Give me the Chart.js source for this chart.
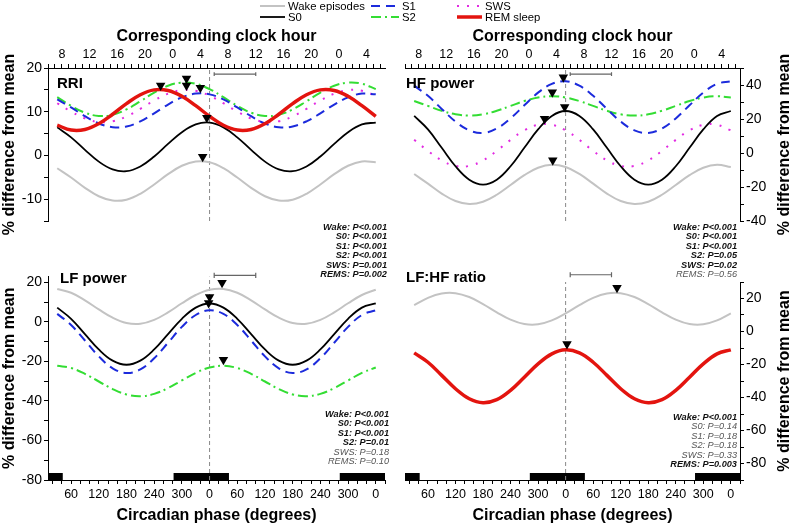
<!DOCTYPE html>
<html>
<head>
<meta charset="utf-8">
<script src="https://cdn.jsdelivr.net/npm/chart.js@4.4.0/dist/chart.umd.min.js"></script>
<style>
body { margin: 0; background: #fff; }
#wrap { position: relative; width: 795px; height: 525px; overflow: hidden; font-family: 'Liberation Sans', Arial, sans-serif; color: #000; }
canvas { position: absolute; }
.lab { position: absolute; font-weight: bold; font-size: 15px; line-height: 16px; white-space: nowrap; }
.stat { position: absolute; text-align: right; font-style: italic; font-size: 9.2px; line-height: 9.4px; color: #555; white-space: nowrap; }
.stat b { color: #111; }
.leg { position: absolute; font-size: 11.3px; line-height: 12px; white-space: nowrap; }
.leg svg { position: absolute; top: 0; }
</style>
</head>
<body>
<div id="wrap">
  <canvas id="tl" width="395" height="276" style="left:0;top:0"></canvas>
  <canvas id="tr" width="400" height="276" style="left:395px;top:0"></canvas>
  <canvas id="bl" width="395" height="259" style="left:0;top:266px"></canvas>
  <canvas id="br" width="400" height="259" style="left:395px;top:266px"></canvas>
</div>
<script>
// circadian phase (degrees, continuous over two cycles)
const phase = [30, 60, 90, 120, 150, 180, 210, 240, 270, 300, 330, 360,
               390, 420, 450, 480, 510, 540, 570, 600, 630, 660, 690, 720]

// RRI
const rriWake = [-2.93, -5.06, -7.41, -9.34, -10.33, -10.13, -8.78, -6.64, -4.29, -2.36, -1.37, -1.57,
                 -2.93, -5.06, -7.41, -9.34, -10.33, -10.13, -8.78, -6.64, -4.29, -2.36, -1.37, -1.57]
const rriS0 = [6.42, 4.14, 1.27, -1.42, -3.21, -3.61, -2.52, -0.24, 2.63, 5.32, 7.11, 7.51,
               6.42, 4.14, 1.27, -1.42, -3.21, -3.61, -2.52, -0.24, 2.63, 5.32, 7.11, 7.51]
const rriS1 = [12.81, 10.98, 8.97, 7.31, 6.46, 6.63, 7.79, 9.62, 11.63, 13.29, 14.14, 13.97,
               12.81, 10.98, 8.97, 7.31, 6.46, 6.63, 7.79, 9.62, 11.63, 13.29, 14.14, 13.97]
const rriS2 = [13.32, 11.34, 9.77, 9.03, 9.30, 10.53, 12.38, 14.36, 15.93, 16.67, 16.40, 15.17,
               13.32, 11.34, 9.77, 9.03, 9.30, 10.53, 12.38, 14.36, 15.93, 16.67, 16.40, 15.17]
const rriSws = [11.94, 10.03, 8.47, 7.66, 7.82, 8.92, 10.66, 12.57, 14.13, 14.94, 14.78, 13.68,
                11.94, 10.03, 8.47, 7.66, 7.82, 8.92, 10.66, 12.57, 14.13, 14.94, 14.78, 13.68]
const rriRem = [6.91, 5.80, 5.93, 7.26, 9.42, 11.85, 13.89, 15.00, 14.87, 13.54, 11.38, 8.95,
                6.91, 5.80, 5.93, 7.26, 9.42, 11.85, 13.89, 15.00, 14.87, 13.54, 11.38, 8.95]
const rriPeakX = [254, 310, 310, 340, 354, 345]
const rriPeakY = [16.0, 17.6, 16.0, 15.5, 8.6, -0.3]

// HF power
const hfWake = [-12.33, -18.05, -23.87, -28.24, -29.99, -28.65, -24.57, -18.85, -13.03, -8.66, -6.91, -8.25,
                -12.33, -18.05, -23.87, -28.24, -29.99, -28.65, -24.57, -18.85, -13.03, -8.66, -6.91, -8.25]
const hfS0 = [21.80, 13.88, 3.05, -7.78, -15.70, -18.60, -15.70, -7.78, 3.05, 13.88, 21.80, 24.70,
              21.80, 13.88, 3.05, -7.78, -15.70, -18.60, -15.70, -7.78, 3.05, 13.88, 21.80, 24.70]
const hfS1 = [39.60, 33.66, 25.94, 18.50, 13.34, 11.83, 14.40, 20.34, 28.06, 35.50, 40.66, 42.17,
              39.60, 33.66, 25.94, 18.50, 13.34, 11.83, 14.40, 20.34, 28.06, 35.50, 40.66, 42.17]
const hfS2 = [30.55, 27.70, 24.85, 22.76, 22.00, 22.76, 24.85, 27.70, 30.55, 32.64, 33.40, 32.64,
              30.55, 27.70, 24.85, 22.76, 22.00, 22.76, 24.85, 27.70, 30.55, 32.64, 33.40, 32.64]
const hfSws = [7.74, 1.26, -4.34, -7.58, -7.58, -4.34, 1.26, 7.74, 13.34, 16.58, 16.58, 13.34,
               7.74, 1.26, -4.34, -7.58, -7.58, -4.34, 1.26, 7.74, 13.34, 16.58, 16.58, 13.34]
const hfPeakX = [332, 358, 355, 331, 314]
const hfPeakY = [-4.2, 27.0, 44.5, 35.7, 20.2]

// LF power
const lfWake = [16.67, 14.71, 10.91, 6.29, 2.10, -0.56, -0.97, 1.00, 4.79, 9.41, 13.60, 16.26,
                16.67, 14.71, 10.91, 6.29, 2.10, -0.56, -0.97, 1.00, 4.79, 9.41, 13.60, 16.26]
const lfS0 = [7.22, 1.55, -6.2, -13.95, -19.62, -21.7, -19.62, -13.95, -6.2, 1.55, 7.22, 9.3,
              7.22, 1.55, -6.2, -13.95, -19.62, -21.7, -19.62, -13.95, -6.2, 1.55, 7.22, 9.3]
const lfS1 = [4.04, -1.57, -9.44, -17.46, -23.48, -25.88, -24.04, -18.43, -10.56, -2.54, 3.48, 5.88,
              4.04, -1.57, -9.44, -17.46, -23.48, -25.88, -24.04, -18.43, -10.56, -2.54, 3.48, 5.88]
const lfS2 = [-22.21, -23.37, -26.29, -30.17, -33.98, -36.70, -37.59, -36.43, -33.51, -29.63, -25.82, -23.10,
              -22.21, -23.37, -26.29, -30.17, -33.98, -36.70, -37.59, -36.43, -33.51, -29.63, -25.82, -23.10]
const lfPeakX = [387, 360, 358, 390]
const lfPeakY = [19.8, 12.6, 9.6, -19.2]

// LF:HF ratio
const ratioWake = [15.98, 20.42, 23.07, 23.25, 20.89, 16.63, 11.62, 7.18, 4.53, 4.35, 6.71, 10.97,
                   15.98, 20.42, 23.07, 23.25, 20.89, 16.63, 11.62, 7.18, 4.53, 4.35, 6.71, 10.97]
const ratioRem = [-12.98, -18.64, -26.59, -34.68, -40.76, -43.18, -41.32, -35.66, -27.71, -19.62, -13.54, -11.12,
                  -12.98, -18.64, -26.59, -34.68, -40.76, -43.18, -41.32, -35.66, -27.71, -19.62, -13.54, -11.12]
const ratioPeakX = [472, 363]
const ratioPeakY = [26.5, -7.6]

// habitual sleep episodes (black bars) and the error bar
const nightStart = [10, 282, 642]
const nightEnd = [42, 402, 740]
const bracketX = [370, 460]
const clockAt0 = 5.33   // clock hour at phase 0

const rriStats = ['Wake: P<0.001', 'S0: P<0.001', 'S1: P<0.001', 'S2: P<0.001', 'SWS: P=0.001', 'REMS: P=0.002']
const hfStats = ['Wake: P<0.001', 'S0: P<0.001', 'S1: P<0.001', 'S2: P=0.05', 'SWS: P=0.02', 'REMS: P=0.56']
const lfStats = ['Wake: P<0.001', 'S0: P<0.001', 'S1: P<0.001', 'S2: P=0.01', 'SWS: P=0.18', 'REMS: P=0.10']
const ratioStats = ['Wake: P<0.001', 'S0: P=0.14', 'S1: P=0.18', 'S2: P=0.18', 'SWS: P=0.33', 'REMS: P=0.003']
const rriBold = [1, 1, 1, 1, 1, 1]
const hfBold = [1, 1, 1, 1, 1, 0]
const lfBold = [1, 1, 1, 1, 0, 0]
const ratioBold = [1, 0, 0, 0, 0, 1]

const FONT = "'Liberation Sans', Arial, sans-serif"
Chart.defaults.font.family = FONT
Chart.defaults.color = '#000'

const styles = {
    wake: {borderColor: '#c3c3c3', borderWidth: 2},
    s0: {borderColor: '#000000', borderWidth: 1.8},
    s1: {borderColor: '#1c2bdc', borderWidth: 2, borderDash: [9, 6]},
    s2: {borderColor: '#33dd33', borderWidth: 2, borderDash: [10, 4, 2, 4]},
    sws: {borderColor: '#e22be2', borderWidth: 2, borderDash: [2, 8]},
    rem: {borderColor: '#e3140f', borderWidth: 3.5}
}

function range(a, b, s) {
    let out = []
    for(let v = a; v <= b + 1e-9; v += s) out.push(v)
    return out
}

function curve(vals, st) {
    return Object.assign({
        data: phase.map((p, i) => ({x: p, y: vals[i]})),
        pointRadius: 0, tension: 0.4, borderCapStyle: 'butt'
    }, styles[st])
}

function peaks(xs, ys) {
    return {
        data: xs.map((x, i) => ({x: x, y: ys[i]})),
        showLine: false, pointStyle: 'triangle', rotation: 180, pointRadius: 5.5,
        backgroundColor: '#000', borderColor: '#000', borderWidth: 0
    }
}

function midline(lo, hi) {
    return {data: [{x: 360, y: lo}, {x: 360, y: hi}], borderColor: '#888', borderWidth: 1,
            borderDash: [4, 3], pointRadius: 0, tension: 0}
}

function bracket(y, c) {
    let a = bracketX[0], b = bracketX[1]
    return {data: [{x: a, y: y - c}, {x: a, y: y + c}, {x: a, y: y}, {x: b, y: y}, {x: b, y: y + c}, {x: b, y: y - c}],
            borderColor: '#666', borderWidth: 1.2, pointRadius: 0, tension: 0, clip: false}
}

function night(y) {
    let pts = []
    for(let i = 0; i < nightStart.length; i++) {
        pts.push({x: nightStart[i], y: y}, {x: nightEnd[i], y: y}, {x: nightEnd[i], y: null})
    }
    return {data: pts, borderColor: '#000', borderWidth: 7, borderCapStyle: 'butt', pointRadius: 0, tension: 0, spanGaps: false}
}

function yAxis(min, max, t0, t1, step, labStep, side) {
    return {
        type: 'linear', position: side, min: min, max: max,
        afterFit: s => { s.width = side === 'left' ? 48 : 55 },
        afterBuildTicks: s => { s.ticks = range(t0, t1, step).map(v => ({value: v})) },
        ticks: {autoSkip: false, padding: 2, font: {size: 14}, callback: v => v % labStep === 0 ? v : ''},
        grid: {drawOnChartArea: false, tickLength: 4, color: '#000'},
        border: {color: '#000', width: 1},
        title: {display: side === 'left', text: '% difference from mean', font: {size: 16, weight: 'bold'}, padding: {top: 0, bottom: 0}}
    }
}

function xData(show) {
    return {
        type: 'linear', position: 'bottom', min: 10, max: 740, display: show,
        afterFit: s => { s.height = 45 },
        afterBuildTicks: s => { s.ticks = range(20, 740, 20).map(v => ({value: v})) },
        ticks: {autoSkip: false, maxRotation: 0, padding: 3, font: {size: 12.5}, callback: v => v % 60 === 0 ? String(v % 360) : ''},
        grid: {drawOnChartArea: false, tickLength: 4, color: '#000'},
        border: {color: '#000', width: 1},
        title: {display: true, text: 'Circadian phase (degrees)', font: {size: 16, weight: 'bold'}, padding: {top: 0, bottom: 0}}
    }
}

function xClock() {
    return {
        type: 'linear', position: 'top', min: 10 / 15 + clockAt0, max: 740 / 15 + clockAt0,
        afterFit: s => { s.height = 44 },
        afterBuildTicks: s => { s.ticks = range(6, 54, 1).map(v => ({value: v})) },
        ticks: {autoSkip: false, maxRotation: 0, padding: 2, font: {size: 12.5}, callback: v => v % 4 === 0 ? String(v % 24) : ''},
        grid: {drawOnChartArea: false, tickLength: 4, color: '#000'},
        border: {color: '#000', width: 1},
        title: {display: true, text: 'Corresponding clock hour', font: {size: 16, weight: 'bold'}, padding: {top: 3, bottom: 0}}
    }
}

const rightTitle = {
    id: 'rightTitle',
    afterDraw(chart) {
        const ctx = chart.ctx
        const a = chart.chartArea
        ctx.save()
        ctx.translate(chart.width - 10, (a.top + a.bottom) / 2)
        ctx.rotate(-Math.PI / 2)
        ctx.font = 'bold 16px ' + FONT
        ctx.fillStyle = '#000'
        ctx.textAlign = 'center'
        ctx.textBaseline = 'middle'
        ctx.fillText('% difference from mean', 0, 0)
        ctx.restore()
    }
}

function makeChart(id, datasets, scales, padding, plugins) {
    return new Chart(document.getElementById(id), {
        type: 'line',
        data: {datasets: datasets},
        options: {
            responsive: false, animation: false, events: [],
            layout: {padding: padding},
            plugins: {legend: {display: false}, tooltip: {enabled: false}},
            scales: scales
        },
        plugins: plugins || []
    })
}

makeChart('tl', [
    peaks(rriPeakX, rriPeakY),
    curve(rriRem, 'rem'), curve(rriS0, 's0'), curve(rriS1, 's1'), curve(rriS2, 's2'), curve(rriSws, 'sws'), curve(rriWake, 'wake'),
    midline(-15, 20), bracket(18.6, 0.45)
], {x: xData(false), xt: xClock(), y: yAxis(-15, 20, -15, 20, 5, 10, 'left')},
   {top: 24, left: 0, right: 10, bottom: 10})

makeChart('tr', [
    peaks(hfPeakX, hfPeakY),
    curve(hfS0, 's0'), curve(hfS1, 's1'), curve(hfS2, 's2'), curve(hfSws, 'sws'), curve(hfWake, 'wake'),
    midline(-40, 50), bracket(46.4, 1.1)
], {x: xData(false), xt: xClock(), y: yAxis(-40, 50, -40, 50, 10, 20, 'right')},
   {top: 24, left: 10, right: 0, bottom: 10}, [rightTitle])

makeChart('bl', [
    peaks(lfPeakX, lfPeakY),
    curve(lfS0, 's0'), curve(lfS1, 's1'), curve(lfS2, 's2'), curve(lfWake, 'wake'),
    midline(-80, 23), bracket(23.5, 1.3), night(-78.2)
], {x: xData(true), y: yAxis(-80, 23, -80, 20, 10, 20, 'left')},
   {top: 10, left: 0, right: 10, bottom: 0})

makeChart('br', [
    peaks(ratioPeakX, ratioPeakY),
    curve(ratioRem, 'rem'), curve(ratioWake, 'wake'),
    midline(-90, 30), bracket(34.4, 1.5), night(-87.9)
], {x: xData(true), y: yAxis(-90, 30, -90, 30, 10, 20, 'right')},
   {top: 16, left: 10, right: 0, bottom: 0}, [rightTitle])

// overlays: legend, panel names, statistics
const wrap = document.getElementById('wrap')
function add(cls, css, html) {
    const d = document.createElement('div')
    d.className = cls
    d.style.cssText = css
    d.innerHTML = html
    wrap.appendChild(d)
}

const legendItems = [
    {label: 'Wake episodes', st: 'wake', x: 260, y: 0, w: 25},
    {label: 'S0', st: 's0', x: 260, y: 11, w: 25},
    {label: 'S1', st: 's1', x: 371, y: 0, w: 28},
    {label: 'S2', st: 's2', x: 371, y: 11, w: 28},
    {label: 'SWS', st: 'sws', x: 457, y: 0, w: 25},
    {label: 'REM sleep', st: 'rem', x: 457, y: 11, w: 25}
]
legendItems.forEach(it => {
    const s = styles[it.st]
    const dash = s.borderDash ? ' stroke-dasharray="' + s.borderDash.join(' ') + '"' : ''
    const svg = '<svg width="' + it.w + '" height="12" style="left:0"><line x1="0" y1="6" x2="' + it.w + '" y2="6" stroke="' +
        s.borderColor + '" stroke-width="' + s.borderWidth + '"' + dash + '/></svg>'
    add('leg', 'left:' + it.x + 'px;top:' + it.y + 'px;padding-left:' + (it.w + 3) + 'px', svg + it.label)
})

add('lab', 'left:57px;top:75px', 'RRI')
add('lab', 'left:406px;top:75px', 'HF power')
add('lab', 'left:60px;top:270px', 'LF power')
add('lab', 'left:406px;top:269px', 'LF:HF ratio')

function stats(lines, bold, css) {
    add('stat', css, lines.map((t, i) => bold[i] ? '<b>' + t + '</b>' : t).join('<br>'))
}
stats(rriStats, rriBold, 'right:408px;top:223px')
stats(hfStats, hfBold, 'right:58px;top:223px')
stats(lfStats, lfBold, 'right:406px;top:410px')
stats(ratioStats, ratioBold, 'right:58px;top:413px')
</script>
</body>
</html>
